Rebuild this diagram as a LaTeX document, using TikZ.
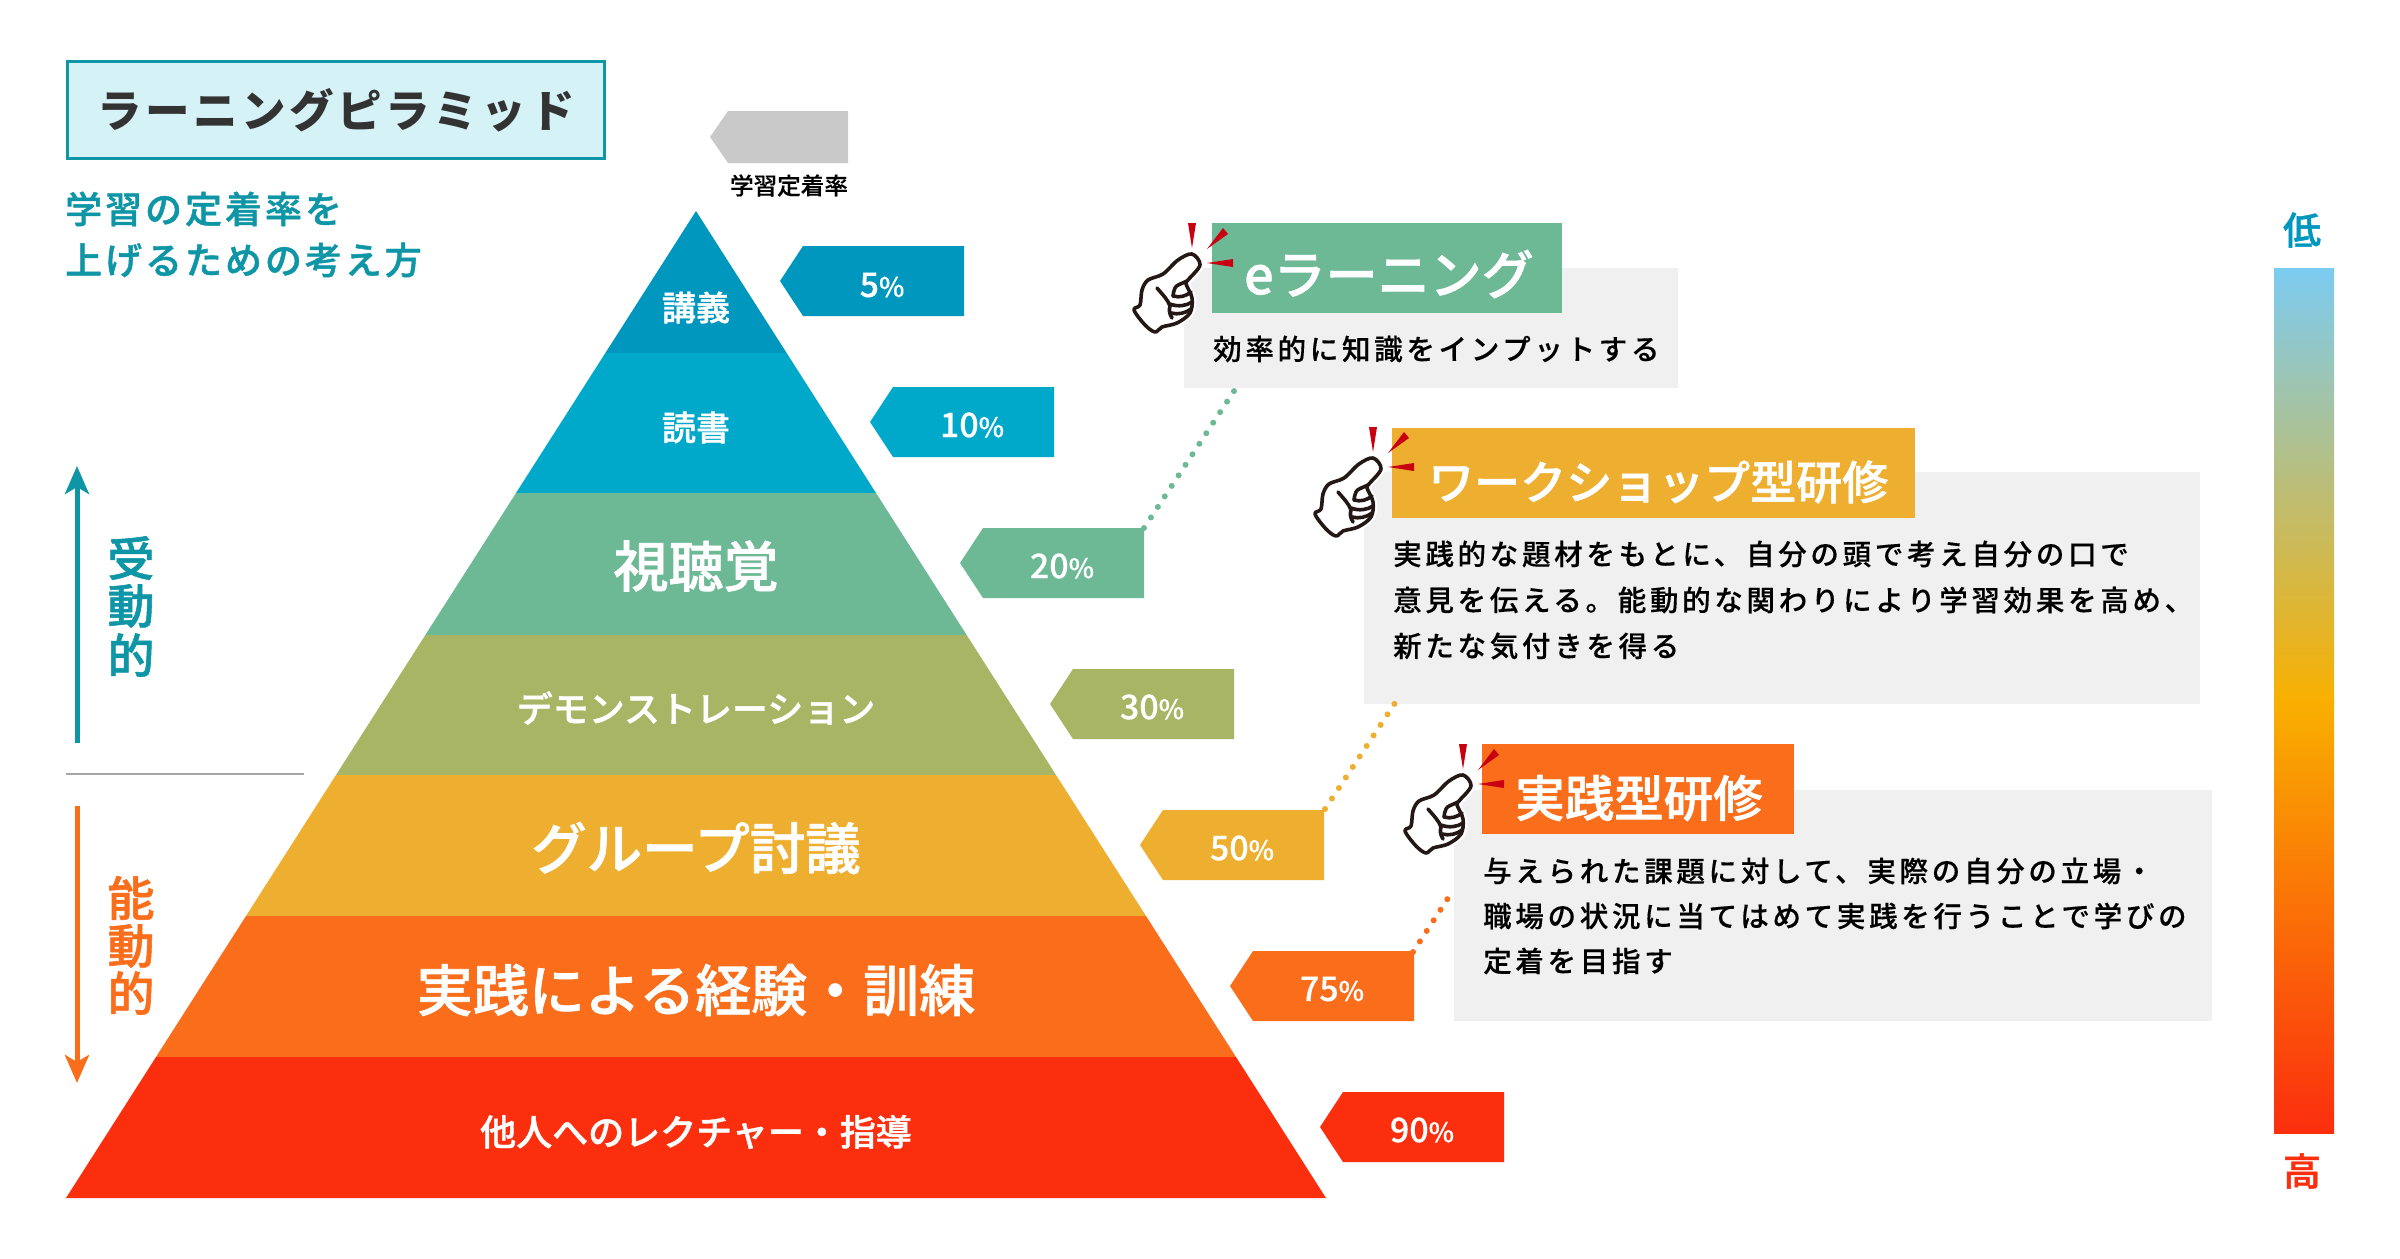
\documentclass[tikz,border=0pt]{standalone}
\usepackage{fontspec}
\setmainfont{Noto Sans CJK JP}
\newfontfamily\medjp[FakeBold=0.35]{Noto Sans CJK JP Medium}
\newfontfamily\strongjp[FakeBold=1.2]{Noto Sans CJK JP Medium}
\usetikzlibrary{arrows.meta}
\definecolor{cA}{HTML}{0097BF}
\definecolor{cB}{HTML}{00A9C9}
\definecolor{cC}{HTML}{6DB996}
\definecolor{cD}{HTML}{A7B565}
\definecolor{cE}{HTML}{EEAF30}
\definecolor{cF}{HTML}{FA6E1B}
\definecolor{cG}{HTML}{FB2E0E}
\definecolor{cYt}{HTML}{7CCCF2}
\definecolor{cYm}{HTML}{F9B000}
\definecolor{teal1}{HTML}{0F96A6}
\definecolor{paleT}{HTML}{D5F3F6}
\definecolor{cardg}{HTML}{F0F0F0}
\definecolor{spark}{HTML}{C9000F}
\definecolor{inkh}{HTML}{231815}
\newcommand\fs[1]{\fontsize{#1}{#1}\selectfont}
\newcommand\lspc[1]{\addfontfeatures{LetterSpace=#1}}
\tikzset{
  x=1pt,y=-1pt,
  lab/.style={text=white,inner sep=0pt,anchor=center},
  dots/.style={line width=6pt,line cap=round,dash pattern=on 0pt off 12.6pt},
  body/.style={inner sep=0pt,anchor=west,text=black,font=\medjp\fs{28.5}\lspc{13}},
  head/.style={inner sep=0pt,anchor=west,text=white},
  pct/.style={text=white,inner sep=0pt,anchor=center,font=\medjp},
  card/.style={fill=cardg,draw=none},
  handline/.style={inkh,line width=3.6pt,line cap=round,line join=round},
  axisarrow/.style={line width=5pt,-{Stealth[length=28pt,width=24pt,inset=7pt]}},
}
\newcommand\ptag[3]{% colour, x of tip, y of top
  \fill[#1] (#2,#3+35) -- (#2+23,#3) -- (#2+184,#3) -- (#2+184,#3+70) -- (#2+23,#3+70) -- cycle;}
\newcommand\handshape{plot[smooth cycle,tension=.55] coordinates {(1134,310) (1140,305) (1142,290) (1148,280) (1163,274) (1178,260) (1192,254) (1200,265) (1188,280) (1186,284) (1192,298) (1190,313) (1177,323) (1162,327) (1155,332) (1145,325)}}
\newcommand\handmark{%
  \fill[spark] (1188,223) -- (1196,223) -- (1192,248) -- cycle;
  \fill[spark] (1223,228) -- (1228,234) -- (1207,249) -- cycle;
  \fill[spark] (1233,259) -- (1233,267) -- (1207,263) -- cycle;
  \draw[white,fill=white,line width=8pt] \handshape;
  \draw[handline,fill=white] \handshape;
  \draw[handline] (1157,288) .. controls (1163,295) and (1168,300) .. (1170,306) .. controls (1169,310) and (1169,313) .. (1172,318);
  \draw[handline] (1187,281) .. controls (1181,284) and (1176,285) .. (1175,288) .. controls (1174,291) and (1173,293) .. (1173,296);
  \draw[handline] (1173,296) .. controls (1180,298) and (1186,296) .. (1191,292);
  \draw[handline] (1170,304) .. controls (1178,307) and (1186,306) .. (1192,302);
  \draw[handline] (1171,313) .. controls (1178,315) and (1186,313) .. (1191,309);
}
\begin{document}
\begin{tikzpicture}
\useasboundingbox (0,0) rectangle (2400,1258);
\fill[white] (0,0) rectangle (2400,1258);

% title
\node[draw=teal1,fill=paleT,line width=3pt,minimum width=537pt,minimum height=97pt,inner sep=0pt,anchor=center] (title) at (336,110)
  {\bfseries\fs{44.5}\lspc{8}\raisebox{-1pt}{\textcolor[HTML]{333333}{ラーニングピラミッド}}};
\node[inner sep=0pt,anchor=west,text=teal1,font=\strongjp\fs{37}\lspc{8}] (sub1) at (65,209) {学習の定着率を};
\node[inner sep=0pt,anchor=west,text=teal1,font=\strongjp\fs{37}\lspc{8}] (sub2) at (65,260) {上げるための考え方};

% header tag
\fill[black!21] (710,137) -- (728,111) -- (848,111) -- (848,163) -- (728,163) -- cycle;
\node[inner sep=0pt,text=black,font=\medjp\fs{23.6}] (ratehead) at (789,185.5) {学習定着率};

% pyramid
\begin{scope}
\clip (696,211) -- (1326,1198) -- (66,1198) -- cycle;
\fill[cA] (0,200) rectangle (1400,353);
\fill[cB] (0,353) rectangle (1400,493);
\fill[cC] (0,493) rectangle (1400,635);
\fill[cD] (0,635) rectangle (1400,775);
\fill[cE] (0,775) rectangle (1400,916);
\fill[cF] (0,916) rectangle (1400,1057);
\fill[cG] (0,1057) rectangle (1400,1200);
\end{scope}
\node[lab,font=\strongjp\fs{34}] (l1) at (696,307.5) {講義};
\node[lab,font=\strongjp\fs{34}] (l2) at (696,427.5) {読書};
\node[lab,font=\strongjp\fs{55}] (l3) at (696,566) {視聴覚};
\node[lab,font=\strongjp\fs{36}] (l4) at (696,708) {デモンストレーション};
\node[lab,font=\strongjp\fs{55.5}] (l5) at (696,848) {グループ討議};
\node[lab,font=\strongjp\fs{56}] (l6) at (696,990) {実践による経験・訓練};
\node[lab,font=\strongjp\fs{36}] (l7) at (696,1132) {他人へのレクチャー・指導};

% percentage tags
\ptag{cA}{780}{246}
\ptag{cB}{870}{387}
\ptag{cC}{960}{528}
\ptag{cD}{1050}{669}
\ptag{cE}{1140}{810}
\ptag{cF}{1230}{951}
\ptag{cG}{1320}{1092}
\node[pct] (p1) at (882,285) {\fs{34}5\fs{27}\%};
\node[pct] (p2) at (972,425) {\fs{34}10\fs{27}\%};
\node[pct] (p3) at (1062,566) {\fs{34}20\fs{27}\%};
\node[pct] (p4) at (1152,707) {\fs{34}30\fs{27}\%};
\node[pct] (p5) at (1242,848) {\fs{34}50\fs{27}\%};
\node[pct] (p6) at (1332,989) {\fs{34}75\fs{27}\%};
\node[pct] (p7) at (1422,1130) {\fs{34}90\fs{27}\%};

% cards
\fill[card] (1184,268) rectangle (1678,388);
\fill[card] (1364,472) rectangle (2200,704);
\fill[card] (1454,790) rectangle (2212,1021);
\fill[cC] (1212,223) rectangle (1562,313);
\fill[cE] (1392,428) rectangle (1915,518);
\fill[cF] (1482,744) rectangle (1794,834);
\node[head,font=\strongjp\fs{52}] (h1) at (1244,274) {eラーニング};
\node[head,font=\strongjp\fs{46}] (h2) at (1428,482) {ワークショップ型研修};
\node[head,font=\strongjp\fs{49.5}] (h3) at (1515,798) {実践型研修};
\node[body] (b1) at (1213,349) {効率的に知識をインプットする};
\node[body] (b2a) at (1393,554) {実践的な題材をもとに、自分の頭で考え自分の口で};
\node[body] (b2b) at (1393,600) {意見を伝える。能動的な関わりにより学習効果を高め、};
\node[body] (b2c) at (1393,646) {新たな気付きを得る};
\node[body] (b3a) at (1483,871) {与えられた課題に対して、実際の自分の立場・};
\node[body] (b3b) at (1483,916) {職場の状況に当てはめて実践を行うことで学びの};
\node[body] (b3c) at (1483,961) {定着を目指す};

% dotted connectors
\coordinate (d1a) at (1144,528); \coordinate (d1b) at (1236,388);
\coordinate (d2a) at (1325,809); \coordinate (d2b) at (1395,703);
\coordinate (d3a) at (1413,952); \coordinate (d3b) at (1452,892);
\draw[cC,dots] (d1a) -- (d1b);
\draw[cE,dots] (d2a) -- (d2b);
\draw[cF,dots] (d3a) -- (d3b);

% hands
\handmark
\begin{scope}[shift={(181,204)}]\handmark\end{scope}
\begin{scope}[shift={(271,521)}]\handmark\end{scope}

% left axis
\coordinate (a1s) at (77,743); \coordinate (a1e) at (77,466);
\coordinate (a2s) at (77,806); \coordinate (a2e) at (77,1083);
\draw[teal1,axisarrow] (a1s) -- (a1e);
\draw[cF,axisarrow] (a2s) -- (a2e);
\coordinate (s1) at (66,774); \coordinate (s2) at (304,774);
\draw[black!35,line width=1.5pt] (s1) -- (s2);
\node[inner sep=0pt,text=teal1,font=\strongjp\fs{47}] (v1) at (131,558) {受};
\node[inner sep=0pt,text=teal1,font=\strongjp\fs{47}] (v2) at (131,606) {動};
\node[inner sep=0pt,text=teal1,font=\strongjp\fs{47}] (v3) at (131,655) {的};
\node[inner sep=0pt,text=cF,font=\strongjp\fs{47}] (v4) at (131,898) {能};
\node[inner sep=0pt,text=cF,font=\strongjp\fs{47}] (v5) at (131,946) {動};
\node[inner sep=0pt,text=cF,font=\strongjp\fs{47}] (v6) at (131,993) {的};

% gradient scale
\fill[top color=cYt,bottom color=cYm] (2274,268) rectangle (2334,701);
\fill[top color=cYm,bottom color=cG] (2274,700) rectangle (2334,1133);
\node[inner sep=0pt,text=cA,font=\strongjp\fs{38}] (lo) at (2302,230) {低};
\node[inner sep=0pt,text=cG,font=\strongjp\fs{38}] (hi) at (2302,1171) {高};
\end{tikzpicture}
\end{document}
